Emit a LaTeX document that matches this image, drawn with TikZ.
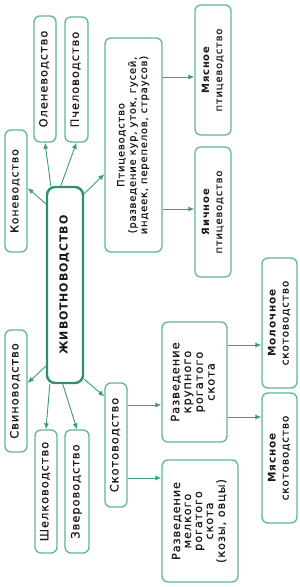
\documentclass[tikz,border=0pt]{standalone}
\usepackage{graphicx}
\usepackage{fontspec}
\setmainfont{DejaVu Sans}[LetterSpace=8, UprightFeatures={FakeBold=0.5}]
\usetikzlibrary{arrows.meta}
\definecolor{boxc}{HTML}{62B49C}
\definecolor{mainc}{HTML}{2F9070}
\definecolor{arrc}{HTML}{3D9B80}
\definecolor{txtc}{HTML}{1A1A1A}
\newcommand\vtxt[3]{\rotatebox{90}{\fontsize{#1}{#2}\selectfont\begin{tabular}{@{}c@{}}#3\end{tabular}}}
\begin{document}
\begin{tikzpicture}[x=1pt,y=-1pt,
  box/.style={draw=boxc, line width=1.3pt, rounded corners=6pt, fill=white, inner sep=0pt, text=txtc},
  mainbox/.style={box, draw=mainc, line width=2.4pt, rounded corners=8pt},
  arr/.style={draw=arrc, line width=0.9pt, -{Latex[length=6pt,width=5pt]}}]
\useasboundingbox[fill=white] (0,0) rectangle (300,587);
% nodes
\node[mainbox, minimum width=36pt, minimum height=196pt] (zh) at (65,285) {\vtxt{11}{13}{\bfseries ЖИВОТНОВОДСТВО}};
\node[box, minimum width=22pt, minimum height=122pt] (kon) at (16,191) {\vtxt{11}{12}{Коневодство}};
\node[box, minimum width=22pt, minimum height=126pt] (olen) at (45,79) {\vtxt{11.5}{12}{Оленеводство}};
\node[box, minimum width=23pt, minimum height=125pt] (pchel) at (76.5,79.5) {\vtxt{11.5}{12}{Пчеловодство}};
\node[box, minimum width=57pt, minimum height=214pt] (ptic) at (133.5,145) {\vtxt{10}{11.3}{Птицеводство\\(разведение кур, уток, гусей,\\индеек, перепелов, страусов)}};
\node[box, minimum width=36pt, minimum height=130pt] (myasp) at (213,70) {\vtxt{10}{13}{\bfseries Мясное\\птицеводство}};
\node[box, minimum width=36pt, minimum height=130pt] (yaich) at (213,212) {\vtxt{10}{13}{\bfseries Яичное\\птицеводство}};
\node[box, minimum width=22pt, minimum height=122pt] (svin) at (16,391) {\vtxt{11.5}{12}{Свиноводство}};
\node[box, minimum width=22pt, minimum height=123pt] (shelk) at (46,491.5) {\vtxt{11.5}{12}{Шелководство}};
\node[box, minimum width=24pt, minimum height=123pt] (zver) at (77,491.5) {\vtxt{11.5}{12}{Звероводство}};
\node[box, minimum width=22pt, minimum height=124pt] (skot) at (116,445) {\vtxt{11.5}{12}{Скотоводство}};
\node[box, minimum width=65pt, minimum height=120pt] (krup) at (194.5,382) {\vtxt{11.5}{11.8}{Разведение\\крупного\\рогатого\\скота}};
\node[box, minimum width=76pt, minimum height=122pt] (melk) at (200,521) {\vtxt{11.3}{11}{Разведение\\мелкого\\рогатого\\скота\\(козы, овцы)}};
\node[box, minimum width=35pt, minimum height=130pt] (moloch) at (279.5,323) {\vtxt{10.5}{13}{\bfseries Молочное\\скотоводство}};
\node[box, minimum width=35pt, minimum height=130pt] (myass) at (279.5,458) {\vtxt{10.5}{13}{\bfseries Мясное\\скотоводство}};
% connectors from centre
\draw[arr] ([yshift=-18pt]zh.north west) -- ([yshift=3pt]kon.east);
\draw[arr] ([xshift=5pt]zh.north west) -- (olen.south);
\draw[arr] ([xshift=15pt]zh.north west) -- (pchel.south);
\draw[arr] ([yshift=-8pt]zh.north east) -- ([yshift=-29pt]ptic.west);
\draw[arr] ([yshift=18pt]zh.south west) -- ([yshift=8pt]svin.east);
\draw[arr] ([xshift=4pt]zh.south west) -- (shelk.north);
\draw[arr] ([xshift=17pt]zh.south west) -- (zver.north);
\draw[arr] ([yshift=5pt]zh.south east) -- ([yshift=-14pt]skot.north west);
% horizontal connectors
\draw[arr] ([yshift=-7pt]myasp.west -| ptic.east) -- ([yshift=-7pt]myasp.west);
\draw[arr] ([yshift=3pt]yaich.west -| ptic.east) -- ([yshift=3pt]yaich.west);
\draw[arr] ([yshift=-23pt]krup.west -| skot.east) -- ([yshift=-23pt]krup.west);
\draw[arr] ([yshift=43pt]melk.west -| skot.east) -- ([yshift=43pt]melk.west);
\draw[arr] ([yshift=-22pt]moloch.west -| krup.east) -- ([yshift=-22pt]moloch.west);
\draw[arr] ([yshift=41pt]myass.west -| krup.east) -- ([yshift=41pt]myass.west);
\end{tikzpicture}
\end{document}
